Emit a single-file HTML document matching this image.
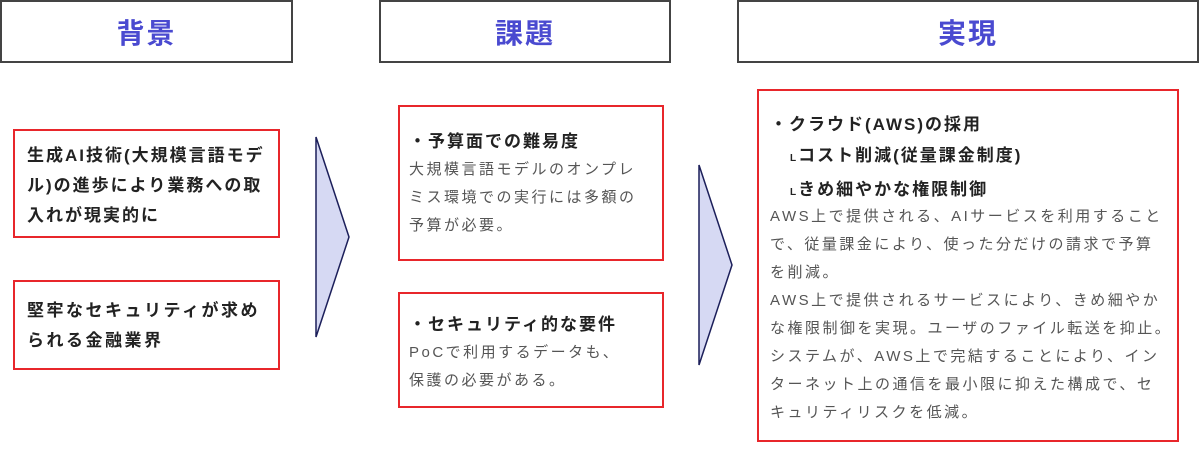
<!DOCTYPE html>
<html><head><meta charset="utf-8"><style>
body{margin:0;width:1200px;height:454px;background:#fff;position:relative;overflow:hidden;font-family:"Liberation Sans","Noto Sans CJK JP",sans-serif;}
.h{position:absolute;top:0;height:63px;border:2px solid #444;box-sizing:border-box;color:#4a4ad0;font-weight:bold;font-size:28px;display:flex;align-items:center;justify-content:center;letter-spacing:2px;}
.b{position:absolute;border:2px solid #e8262b;box-sizing:border-box;}
.t{position:absolute;color:#333;white-space:nowrap;}
.bold{font-weight:bold;font-size:17px;color:#222;letter-spacing:1.5px;}
.g{color:#555;font-size:15px;letter-spacing:2.5px;}
</style></head><body>
<div class="h" style="left:0;width:293px;">背景</div>
<div class="h" style="left:379px;width:292px;">課題</div>
<div class="h" style="left:737px;width:462px;">実現</div>

<div class="b" style="left:13px;top:129px;width:267px;height:109px;"></div>
<div class="t bold" style="left:27px;top:141px;line-height:30px;letter-spacing:2px;">生成AI技術(大規模言語モデ<br>ル)の進歩により業務への取<br>入れが現実的に</div>
<div class="b" style="left:13px;top:280px;width:267px;height:90px;"></div>
<div class="t bold" style="left:27px;top:296px;line-height:30px;letter-spacing:2.5px;">堅牢なセキュリティが求め<br>られる金融業界</div>

<svg style="position:absolute;left:0;top:0" width="1200" height="454">
<polygon points="316,137 349,237 316,337" fill="#d6d9f3" stroke="#1c1f5a" stroke-width="1.5"/>
<polygon points="699,165 732,265 699,365" fill="#d6d9f3" stroke="#1c1f5a" stroke-width="1.5"/>
</svg>

<div class="b" style="left:398px;top:105px;width:266px;height:156px;"></div>
<div class="t" style="left:409px;top:128px;">
<div class="bold" style="line-height:28px;letter-spacing:2px;">・予算面での難易度</div>
<div class="g" style="line-height:28px;">大規模言語モデルのオンプレ<br>ミス環境での実行には多額の<br>予算が必要。</div>
</div>
<div class="b" style="left:398px;top:292px;width:266px;height:116px;"></div>
<div class="t" style="left:409px;top:311px;">
<div class="bold" style="line-height:28px;letter-spacing:2px;">・セキュリティ的な要件</div>
<div class="g" style="line-height:28px;">PoCで利用するデータも、<br>保護の必要がある。</div>
</div>

<div class="b" style="left:757px;top:89px;width:422px;height:353px;"></div>
<div class="t" style="left:770px;top:109px;">
<div class="bold" style="line-height:31px;letter-spacing:2px;">・クラウド(AWS)の採用</div>
<div class="bold" style="line-height:31px;padding-left:20px;letter-spacing:2px;"><span style="font-size:10px">L</span>コスト削減(従量課金制度)</div>
<div class="bold" style="line-height:31px;padding-left:20px;letter-spacing:2px;"><span style="font-size:10px">L</span>きめ細やかな権限制御</div>
<div class="g" style="line-height:28px;margin-top:-5px;">AWS上で提供される、AIサービスを利用すること<br>で、従量課金により、使った分だけの請求で予算<br>を削減。<br>AWS上で提供されるサービスにより、きめ細やか<br>な権限制御を実現。ユーザのファイル転送を抑止。<br>システムが、AWS上で完結することにより、イン<br>ターネット上の通信を最小限に抑えた構成で、セ<br>キュリティリスクを低減。</div>
</div>
</body></html>
